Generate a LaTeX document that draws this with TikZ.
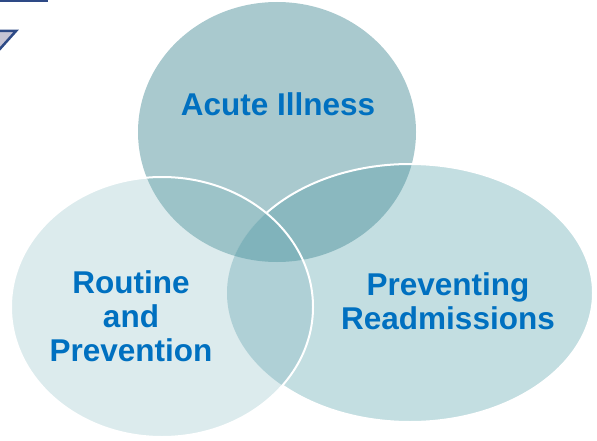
\documentclass[tikz,border=0pt]{standalone}
\usepackage{fontspec}
\setmainfont{Liberation Sans}
\definecolor{cT}{HTML}{A9C9CE}
\definecolor{cL}{HTML}{DCEBED}
\definecolor{cR}{HTML}{C3DEE1}
\definecolor{cTL}{HTML}{9CC3C8}
\definecolor{cTR}{HTML}{8AB8BF}
\definecolor{cLR}{HTML}{AFD0D6}
\definecolor{cTLR}{HTML}{80B3BB}
\definecolor{txt}{HTML}{0070C0}
\definecolor{navy}{HTML}{2E4A86}
\definecolor{pale}{HTML}{C6C4D4}
\tikzset{
  lbl/.style={text=txt,font=\fontsize{31.5}{34}\selectfont\bfseries,align=center,inner sep=0pt},
  rim/.style={draw=white,line width=2pt}
}
\def\ellT{(277,132) ellipse [x radius=139pt,y radius=130pt]}
\def\ellL{(162,307) ellipse [x radius=151pt,y radius=130pt]}
\def\ellR{(410,293) ellipse [x radius=183pt,y radius=129pt]}
\begin{document}
\begin{tikzpicture}[x=1pt,y=-1pt]
\useasboundingbox (0,0) rectangle (597,441);
% slide remnants top-left
\filldraw[fill=pale,draw=navy,line width=2.5pt] (-10,-10) rectangle (47,1);
\filldraw[fill=pale,draw=navy,line width=2.5pt,line join=miter] (-10,31) -- (16,31) -- (-10,60) -- cycle;
% base fills
\fill[cT] \ellT;
\fill[cR] \ellR;
\fill[cL] \ellL;
% pairwise overlaps
\begin{scope}\clip \ellT; \fill[cTL] \ellL; \fill[cTR] \ellR; \end{scope}
\begin{scope}\clip \ellL; \fill[cLR] \ellR; \end{scope}
\begin{scope}\clip \ellT; \clip \ellL; \fill[cTLR] \ellR; \end{scope}
% white rims
\begin{scope}[even odd rule]
  \clip (-20,-20) rectangle (620,460) \ellL;
  \draw[rim] \ellR;
\end{scope}
\draw[rim] \ellL;
% labels
\node[lbl] (acute) at (278,104) {Acute Illness};
\node[lbl] (routine) at (131,316) {Routine\\and\\Prevention};
\node[lbl] (prev) at (448,301) {Preventing\\Readmissions};
\end{tikzpicture}
\end{document}
